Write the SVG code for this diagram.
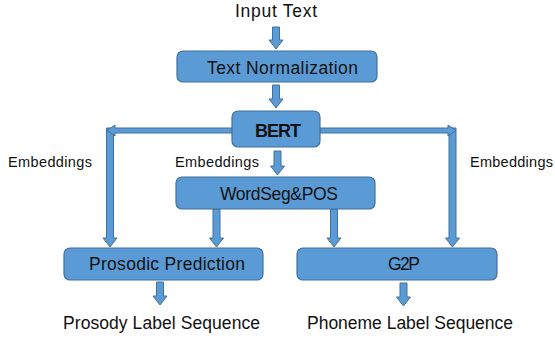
<svg xmlns="http://www.w3.org/2000/svg" width="555" height="338" viewBox="0 0 555 338">
  <style>
    .box { fill: #5b9bd5; stroke: #41719c; stroke-width: 1.2; }
    .arrow { fill: #5b9bd5; stroke: #41719c; stroke-width: 1; stroke-linejoin: miter; }
    .lbl { font-family: "Liberation Sans", Arial, sans-serif; fill: #111; text-anchor: start; }
    .node { font-size: 17.5px; }
    .plain { font-size: 17.5px; }
    .emb { font-size: 14.5px; }
  </style>
  <rect width="555" height="338" fill="#ffffff"/>

  <!-- connectors (drawn first so boxes sit on top) -->
  <g id="connectors">
    <path class="arrow" d="M272.5,27 H279.5 V40 H283 L276,49 L269,40 H272.5 Z"/>
    <path class="arrow" d="M272.5,85 H279.5 V99 H283 L276,108 L269,99 H272.5 Z"/>
    <path class="arrow" d="M274,151 H281 V166 H284.5 L277.5,175 L270.5,166 H274 Z"/>
    <!-- BERT side branches -->
    <path class="arrow" d="M106.5,128 H113.5 V238 H117 L110,247 L103,238 H106.5 Z"/>
    <path class="arrow" d="M232,128 H115 V125 L107,130.5 L115,136 V133 H232 Z"/>
    <path class="arrow" d="M449,128 H456 V238 H459.5 L452.5,247 L445.5,238 H449 Z"/>
    <path class="arrow" d="M320,128 H448 V125 L456,130.5 L448,136 V133 H320 Z"/>
    <!-- WordSeg&POS outputs -->
    <path class="arrow" d="M213,209 H220 V238 H223.5 L216.5,247 L209.5,238 H213 Z"/>
    <path class="arrow" d="M330.5,209 H337.5 V238 H341 L334,247 L327,238 H330.5 Z"/>
    <!-- final outputs -->
    <path class="arrow" d="M156.5,282 H163.5 V296 H167 L160,305 L153,296 H156.5 Z"/>
    <path class="arrow" d="M400,283 H407 V297 H410.5 L403.5,306 L396.5,297 H400 Z"/>
    <!-- branch labels -->
    <text class="lbl emb" x="8" y="167" textLength="84">Embeddings</text>
    <text class="lbl emb" x="175" y="167" textLength="84">Embeddings</text>
    <text class="lbl emb" x="470" y="167" textLength="83">Embeddings</text>
  </g>

  <g id="input-text">
    <text class="lbl plain" x="235" y="17" textLength="82">Input Text</text>
  </g>

  <g id="text-normalization">
    <rect class="box" x="177" y="51" width="200" height="31" rx="6"/>
    <text class="lbl node" x="207" y="74" textLength="151">Text Normalization</text>
  </g>

  <g id="bert">
    <rect class="box" x="232" y="111" width="88" height="36" rx="6"/>
    <text class="lbl" x="255" y="137" font-size="18" font-weight="bold" textLength="46">BERT</text>
  </g>

  <g id="wordseg-pos">
    <rect class="box" x="176" y="177" width="199" height="32" rx="6"/>
    <text class="lbl node" x="220" y="200" textLength="118">WordSeg&amp;POS</text>
  </g>

  <g id="prosodic-prediction">
    <rect class="box" x="64" y="248" width="199" height="32" rx="6"/>
    <text class="lbl node" x="89" y="270" textLength="156">Prosodic Prediction</text>
  </g>

  <g id="g2p">
    <rect class="box" x="297" y="248" width="200" height="32" rx="6"/>
    <text class="lbl node" x="388" y="270" textLength="32">G2P</text>
  </g>

  <g id="prosody-label-sequence">
    <text class="lbl node" x="63" y="329" textLength="197">Prosody Label Sequence</text>
  </g>

  <g id="phoneme-label-sequence">
    <text class="lbl node" x="307" y="329" textLength="206">Phoneme Label Sequence</text>
  </g>
</svg>
